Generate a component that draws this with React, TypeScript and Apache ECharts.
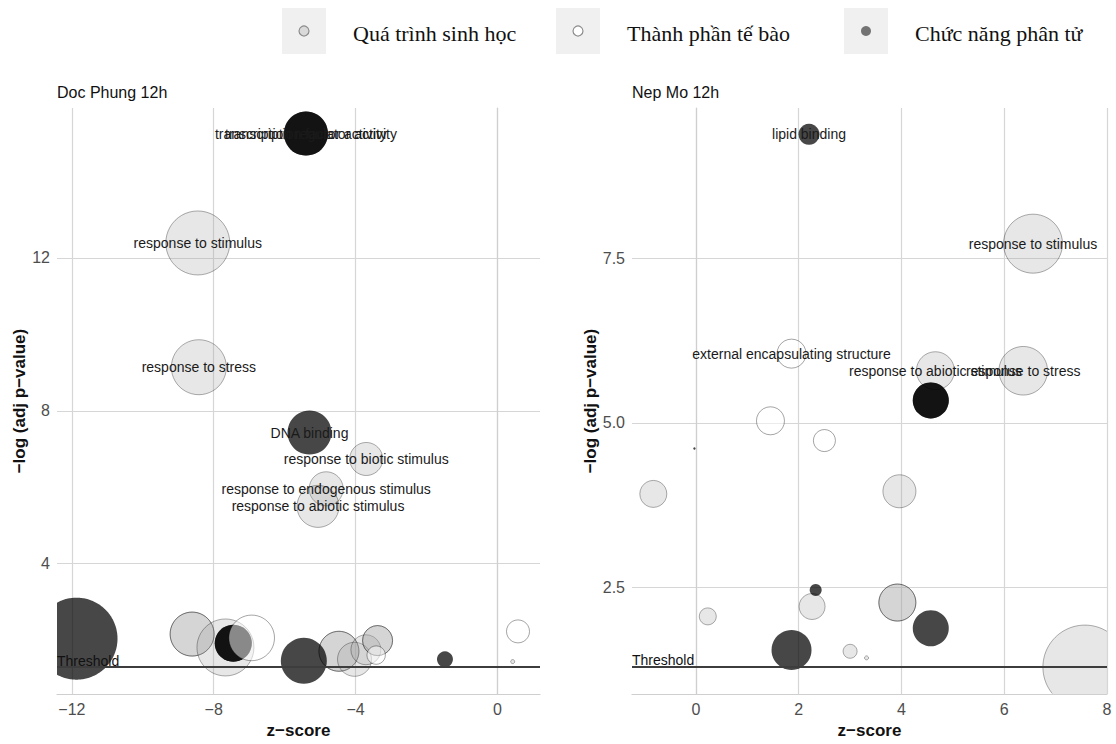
import React, { useEffect, useRef } from 'react';
import * as echarts from 'echarts';

// ---------- DATA ----------
const categoryNames: Record<string, string> = {
  BP: 'Quá trình sinh học',
  CC: 'Thành phần tế bào',
  MF: 'Chức năng phân tử',
};
const legendOrder = ['BP', 'CC', 'MF'];
const drawOrder = ['BP', 'MF', 'CC'];

const panelTitles = ['Doc Phung 12h', 'Nep Mo 12h'];
const thresholdValue = 1.3;

// Doc Phung 12h
const dpTerm = [
  'transcription regulator activity', 'transcription factor activity', 'response to stimulus', 'response to stress',
  'DNA binding', 'response to biotic stimulus', 'response to endogenous stimulus', 'response to abiotic stimulus',
  '', '', '', '', '', '', '', '', '', '', '', '', '', '', '', '', '', '',
];
const dpCat = [
  'MF', 'MF', 'BP', 'BP', 'MF', 'BP', 'BP', 'BP',
  'MF', 'BP', 'BP', 'BP', 'MF', 'MF', 'CC', 'MF', 'BP', 'BP', 'BP', 'BP', 'BP', 'BP', 'CC', 'MF', 'CC', 'BP',
];
const dpZ = [
  -5.40, -5.40, -8.45, -8.42, -5.30, -3.70, -4.83, -5.06,
  -11.87, -8.61, -8.61, -7.67, -7.45, -7.45, -6.93, -5.46, -4.47, -4.47, -4.03, -3.71, -3.38, -3.38, -3.42, -1.48, 0.58, 0.43,
];
const dpLogP = [
  15.25, 15.25, 12.39, 9.14, 7.43, 6.74, 5.96, 5.50,
  2.04, 2.16, 2.16, 1.81, 1.92, 1.92, 2.06, 1.46, 1.71, 1.71, 1.50, 1.75, 1.99, 1.99, 1.61, 1.50, 2.23, 1.44,
];
const dpSize = [
  22, 22, 32, 27.5, 22, 16.5, 17, 21,
  41, 22, 22, 28.5, 18.5, 18.5, 22.8, 23, 20, 20, 17, 15, 15, 15, 9.2, 8, 11.5, 2,
];

// Nep Mo 12h
const nmTerm = [
  'lipid binding', 'response to stimulus', 'external encapsulating structure', 'response to abiotic stimulus', 'response to stress',
  '', '', '', '', '', '', '', '', '', '', '', '', '', '', '', '', '',
];
const nmCat = [
  'MF', 'BP', 'CC', 'BP', 'BP',
  'MF', 'MF', 'CC', 'CC', 'BP', 'BP', 'MF', 'MF', 'BP', 'BP', 'BP', 'BP', 'MF', 'MF', 'BP', 'BP', 'BP',
];
const nmZ = [
  2.20, 6.56, 1.86, 4.66, 6.37,
  4.57, 4.57, 1.45, 2.50, -0.83, 3.96, -0.03, 2.33, 2.26, 3.92, 3.92, 0.23, 4.57, 1.86, 3.00, 3.32, 7.57,
];
const nmLogP = [
  9.38, 7.72, 6.05, 5.79, 5.79,
  5.34, 5.34, 5.03, 4.73, 3.92, 3.96, 4.61, 2.46, 2.21, 2.27, 2.27, 2.06, 1.88, 1.55, 1.53, 1.43, 1.29,
];
const nmSize = [
  10.5, 29.5, 14.5, 19, 24.3,
  18, 18, 14, 11, 13.5, 16.5, 1.2, 6, 13, 18.5, 18.5, 8.5, 18, 20, 7, 2, 42,
];

const xTicks = [[-12, -8, -4, 0], [0, 2, 4, 6, 8]];
const yTicks = [[4, 8, 12], [2.5, 5, 7.5]];
const xRanges = [[-12.42, 1.2], [-1.245, 8]];
const yRanges = [[0.59, 15.92], [0.88, 9.78]];

// ---------- STYLE ----------
const catStyle: Record<string, any> = {
  BP: { fill: 'rgba(160,160,160,0.25)', stroke: 'rgba(0,0,0,0.4)', lineWidth: 0.8 },
  MF: { fill: 'rgba(0,0,0,0.72)', stroke: 'rgba(0,0,0,0)', lineWidth: 0 },
  CC: { fill: 'rgba(255,255,255,0.5)', stroke: 'rgba(0,0,0,0.45)', lineWidth: 0.8 },
};
const legendIcon: Record<string, any> = {
  BP: { fill: '#d9d9d9', stroke: '#8c8c8c', lineWidth: 1.2 },
  CC: { fill: '#ffffff', stroke: '#8c8c8c', lineWidth: 1.2 },
  MF: { fill: '#737373', stroke: '#737373', lineWidth: 0 },
};
const SANS = 'Liberation Sans, Arial, sans-serif';
const SERIF = 'Liberation Serif, Times New Roman, serif';

const panels = [
  { term: dpTerm, cat: dpCat, z: dpZ, logp: dpLogP, size: dpSize },
  { term: nmTerm, cat: nmCat, z: nmZ, logp: nmLogP, size: nmSize },
];

const gridBoxes = [
  { left: 57, top: 108, width: 483, height: 594 },
  { left: 632, top: 108, width: 475, height: 594 },
];

const fmtX = (v: number) => (v < 0 ? '\u2212' + Math.abs(v) : String(v));

// Circle clipped to the plotting rectangle (fill polygon + stroke only on the visible arc)
function clippedCircle(cx: number, cy: number, r: number, box: number[], st: any) {
  const [x0, y0, x1, y1] = box;
  if (cx - r >= x0 && cx + r <= x1 && cy - r >= y0 && cy + r <= y1) {
    return {
      type: 'circle',
      shape: { cx, cy, r },
      style: { fill: st.fill, stroke: st.stroke, lineWidth: st.lineWidth },
    };
  }
  const N = 240;
  const pts: number[][] = [];
  const raw: number[][] = [];
  const inside: boolean[] = [];
  for (let k = 0; k < N; k++) {
    const a = (2 * Math.PI * k) / N;
    const px = cx + r * Math.cos(a);
    const py = cy + r * Math.sin(a);
    raw.push([px, py]);
    pts.push([Math.min(x1, Math.max(x0, px)), Math.min(y1, Math.max(y0, py))]);
    inside.push(px >= x0 && px <= x1 && py >= y0 && py <= y1);
  }
  const children: any[] = [
    { type: 'polygon', shape: { points: pts }, style: { fill: st.fill, stroke: 'none', lineWidth: 0 } },
  ];
  if (st.lineWidth > 0) {
    let start = inside.indexOf(false);
    if (start < 0) start = 0;
    let run: number[][] = [];
    const flush = () => {
      if (run.length > 1) {
        children.push({
          type: 'polyline',
          shape: { points: run },
          style: { fill: 'none', stroke: st.stroke, lineWidth: st.lineWidth },
        });
      }
      run = [];
    };
    for (let s = 1; s <= N; s++) {
      const idx = (start + s) % N;
      if (inside[idx]) run.push(raw[idx]);
      else flush();
    }
    flush();
  }
  return { type: 'group', children };
}

function buildOption() {
  const series: any[] = [];
  panels.forEach((p, i) => {
    drawOrder.forEach((cat, k) => {
      const data: number[][] = [];
      p.z.forEach((z, j) => {
        if (p.cat[j] === cat) data.push([z, p.logp[j], p.size[j]]);
      });
      const st = catStyle[cat];
      const s: any = {
        type: 'custom',
        name: categoryNames[cat],
        coordinateSystem: 'cartesian2d',
        xAxisIndex: i,
        yAxisIndex: i,
        z: 2 + k,
        encode: { x: 0, y: 1 },
        data,
        renderItem: (params: any, api: any) => {
          const c = api.coord([api.value(0), api.value(1)]);
          const cs = params.coordSys;
          const box = [cs.x, cs.y, cs.x + cs.width, cs.y + cs.height];
          return clippedCircle(c[0], c[1], api.value(2), box, st);
        },
      };
      if (k === 0) {
        s.markLine = {
          silent: true,
          symbol: ['none', 'none'],
          z: 6,
          data: [{ yAxis: thresholdValue }],
          lineStyle: { color: '#3d3d3d', width: 2, type: 'solid' },
          label: {
            show: true,
            position: 'insideStartTop',
            formatter: 'Threshold',
            color: '#111',
            fontSize: 14,
            fontFamily: SANS,
            distance: [0, -1],
          },
        };
      }
      series.push(s);
    });
    const labelData: any[] = [];
    const labelText: string[] = [];
    p.term.forEach((t, j) => {
      if (t) {
        labelData.push([p.z[j], p.logp[j]]);
        labelText.push(t);
      }
    });
    series.push({
      type: 'custom',
      name: 'labels-' + i,
      coordinateSystem: 'cartesian2d',
      xAxisIndex: i,
      yAxisIndex: i,
      clip: false,
      z: 10,
      encode: { x: 0, y: 1 },
      data: labelData,
      renderItem: (params: any, api: any) => {
        const c = api.coord([api.value(0), api.value(1)]);
        return {
          type: 'text',
          x: c[0],
          y: c[1],
          style: {
            text: labelText[params.dataIndex],
            align: 'center',
            verticalAlign: 'middle',
            fontSize: 14,
            fontFamily: SANS,
            fill: '#1a1a1a',
          },
        };
      },
    });
  });

  const graphic: any[] = [];
  const keyCenters = [304, 578, 866];
  const textX = [353, 627, 915];
  legendOrder.forEach((cat, i) => {
    graphic.push({
      type: 'rect',
      shape: { x: keyCenters[i] - 22, y: 8, width: 44, height: 46 },
      style: { fill: '#f0f0f0' },
    });
    graphic.push({
      type: 'circle',
      shape: { cx: keyCenters[i], cy: 31, r: 5 },
      style: legendIcon[cat],
    });
    graphic.push({
      type: 'text',
      x: textX[i],
      y: 33,
      style: {
        text: categoryNames[cat],
        fontSize: 22,
        fontFamily: SERIF,
        fill: '#111',
        verticalAlign: 'middle',
        align: 'left',
      },
    });
  });

  return {
    animation: false,
    backgroundColor: '#ffffff',
    title: panelTitles.map((t, i) => ({
      text: t,
      left: gridBoxes[i].left,
      top: 84,
      padding: 0,
      textStyle: { fontSize: 16, fontWeight: 'normal', color: '#111', fontFamily: SANS },
    })),
    grid: gridBoxes.map((g) => ({ ...g, containLabel: false })),
    xAxis: [0, 1].map((i) => ({
      type: 'value',
      gridIndex: i,
      min: xRanges[i][0],
      max: xRanges[i][1],
      name: 'z\u2212score',
      nameLocation: 'middle',
      nameGap: 23,
      nameTextStyle: { fontSize: 17, fontWeight: 'bold', color: '#111', fontFamily: SANS },
      axisLine: { show: true, lineStyle: { color: '#cfcfcf', width: 1.2 } },
      axisTick: { show: false, customValues: xTicks[i] },
      axisLabel: {
        customValues: xTicks[i],
        formatter: fmtX,
        color: '#4d4d4d',
        fontSize: 16,
        fontFamily: SANS,
        margin: 7,
      },
      splitLine: { show: true, lineStyle: { color: '#d6d6d6', width: 1.2 } },
    })),
    yAxis: [0, 1].map((i) => ({
      type: 'value',
      gridIndex: i,
      min: yRanges[i][0],
      max: yRanges[i][1],
      name: '\u2212log (adj p\u2212value)',
      nameLocation: 'middle',
      nameGap: i === 0 ? 28 : 31,
      nameTextStyle: { fontSize: 17, fontWeight: 'bold', color: '#111', fontFamily: SANS },
      axisLine: { show: true, lineStyle: { color: '#cfcfcf', width: 1.2 } },
      axisTick: { show: false, customValues: yTicks[i] },
      axisLabel: {
        customValues: yTicks[i],
        formatter: (v: number) => (i === 0 ? String(v) : v.toFixed(1)),
        color: '#4d4d4d',
        fontSize: 16,
        fontFamily: SANS,
        margin: 7,
      },
      splitLine: { show: true, lineStyle: { color: '#d6d6d6', width: 1.2 } },
    })),
    graphic,
    series,
  };
}

export default function App() {
  const ref = useRef<HTMLDivElement>(null);
  useEffect(() => {
    if (!ref.current) return;
    const chart = echarts.init(ref.current, undefined, { renderer: 'svg' });
    chart.setOption(buildOption() as any);
    return () => chart.dispose();
  }, []);
  return (
    <div
      ref={ref}
      style={{ position: 'fixed', left: 0, top: 0, width: 1116, height: 744, background: '#fff' }}
    />
  );
}
